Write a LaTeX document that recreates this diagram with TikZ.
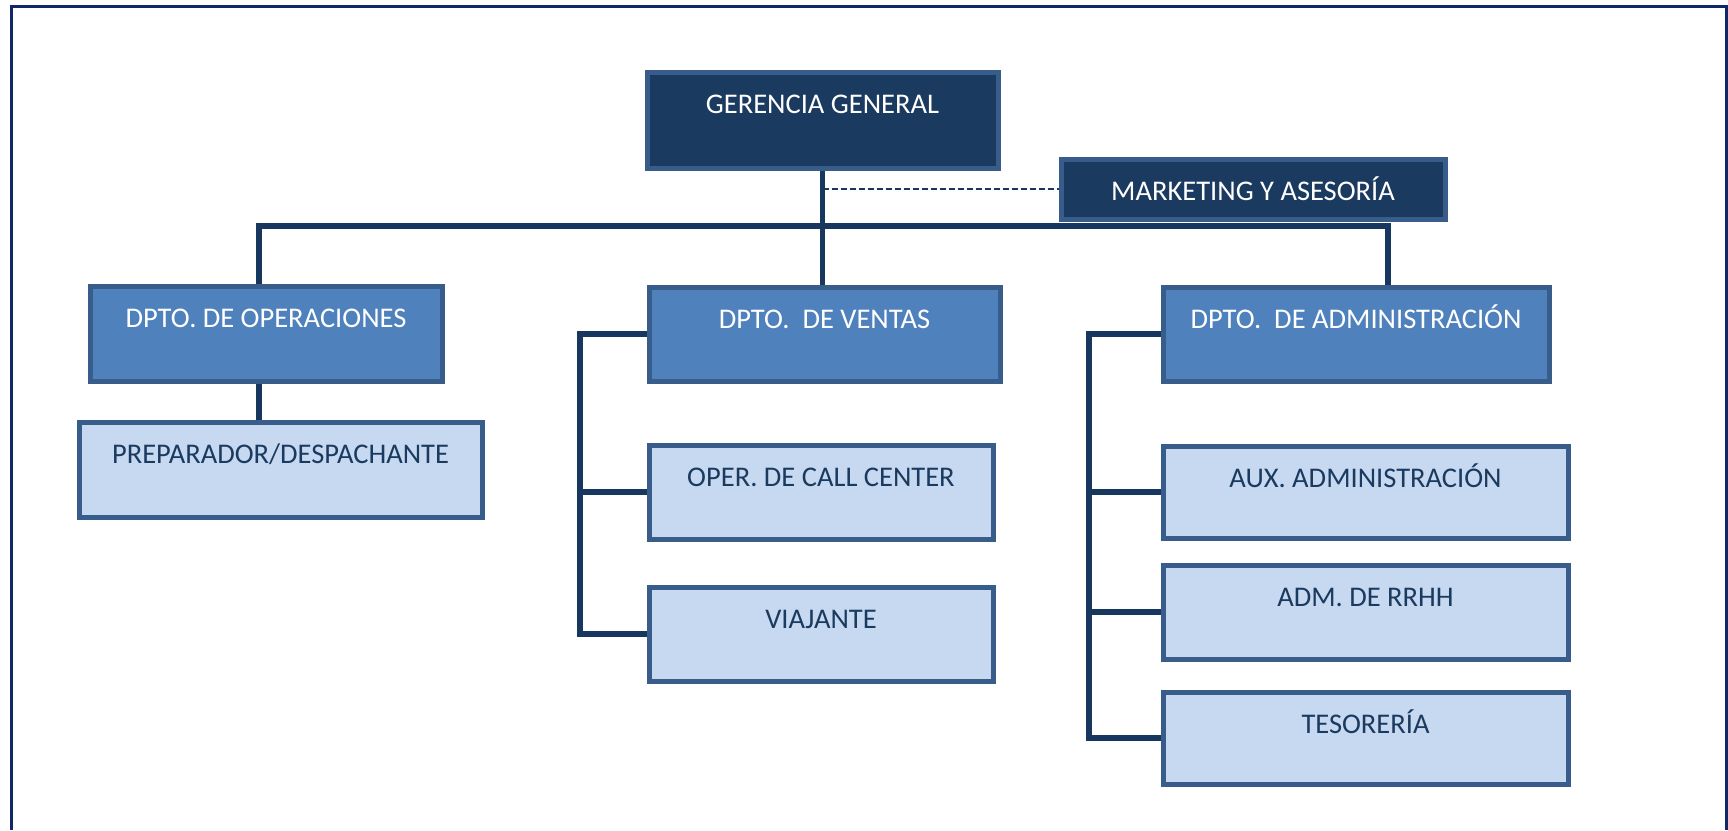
\documentclass[tikz,border=0pt]{standalone}
\usepackage{fontspec}
\setmainfont{Carlito}
\definecolor{navy}{HTML}{1B3A5F}
\definecolor{edge}{HTML}{385D8A}
\definecolor{midblue}{HTML}{4F81BD}
\definecolor{paleblue}{HTML}{C6D9F1}
\definecolor{framecol}{HTML}{0E2868}
\definecolor{linkcol}{HTML}{17375E}
\tikzset{
  box/.style={rectangle, draw=edge, line width=5pt, inner sep=0pt,
    anchor=north west, text height=41pt, font=\fontsize{28.5}{34}\selectfont},
  topbox/.style={box, fill=navy, text=white},
  deptbox/.style={box, fill=midblue, text=white},
  unitbox/.style={box, fill=paleblue, text=navy},
  link/.style={draw=linkcol, line width=5.5pt, line join=miter},
  advice/.style={draw=linkcol, line width=2.2pt, dash pattern=on 6pt off 3pt},
  frameline/.style={draw=framecol, line width=3pt}
}
\begin{document}
\begin{tikzpicture}[x=1pt,y=-1pt]
\useasboundingbox (0,0) rectangle (1728,830);
% outer frame, open at the bottom
\draw[frameline] (11,830) -- (11,6) -- (1726,6) -- (1726,830);

% boxes
\node[topbox, minimum width=351pt, minimum height=96pt, text depth=55pt] (ger) at (644.5,69.5) {GERENCIA GENERAL};
\node[topbox, minimum width=384pt, minimum height=60pt, text depth=19pt] (mkt) at (1058.5,156.5) {MARKETING Y ASESORÍA};

\node[deptbox, minimum width=352pt, minimum height=95pt, text depth=54pt] (ope) at (87.5,283.5) {DPTO.\ DE OPERACIONES};
\node[deptbox, minimum width=351pt, minimum height=94pt, text depth=53pt] (ven) at (646.5,284.5) {DPTO.\ \ DE VENTAS};
\node[deptbox, minimum width=386pt, minimum height=94pt, text depth=53pt] (adm) at (1160.5,284.5) {DPTO.\ \ DE ADMINISTRACIÓN};

\node[unitbox, minimum width=403pt, minimum height=95pt, text depth=54pt] (prep) at (76.5,419.5) {PREPARADOR/DESPACHANTE};
\node[unitbox, minimum width=344pt, minimum height=94pt, text depth=53pt] (call) at (646.5,442.5) {OPER. DE CALL CENTER};
\node[unitbox, minimum width=344pt, minimum height=94pt, text depth=53pt] (via) at (646.5,584.5) {VIAJANTE};
\node[unitbox, minimum width=405pt, minimum height=92pt, text depth=51pt] (aux) at (1160.5,443.5) {AUX. ADMINISTRACIÓN};
\node[unitbox, minimum width=405pt, minimum height=94pt, text depth=53pt] (rrhh) at (1160.5,562.5) {ADM. DE RRHH};
\node[unitbox, minimum width=405pt, minimum height=92pt, text depth=51pt] (tes) at (1160.5,689.5) {TESORERÍA};

% main connectors
\coordinate (busL) at (259,226);
\coordinate (busR) at (1388,226);
\coordinate (vb) at (580,0);
\coordinate (ab) at (1089,0);

\draw[link] (ger.south) -- (ger.south |- ven.north);
\draw[link] (ope.north -| busL) -- (busL) -- (busR) -- (busR |- adm.north);
\draw[link] (ope.south -| busL) -- (prep.north -| busL);
\draw[advice] (ger.south |- mkt.west) -- (mkt.west);

% sales bracket
\draw[link] (ven.west) -- (ven.west -| vb) -- (via.west -| vb) -- (via.west);
\draw[link] (call.west -| vb) -- (call.west);

% administration bracket
\draw[link] (adm.west) -- (adm.west -| ab) -- (tes.west -| ab) -- (tes.west);
\draw[link] (aux.west -| ab) -- (aux.west);
\draw[link] (rrhh.west -| ab) -- (rrhh.west);
\end{tikzpicture}
\end{document}
